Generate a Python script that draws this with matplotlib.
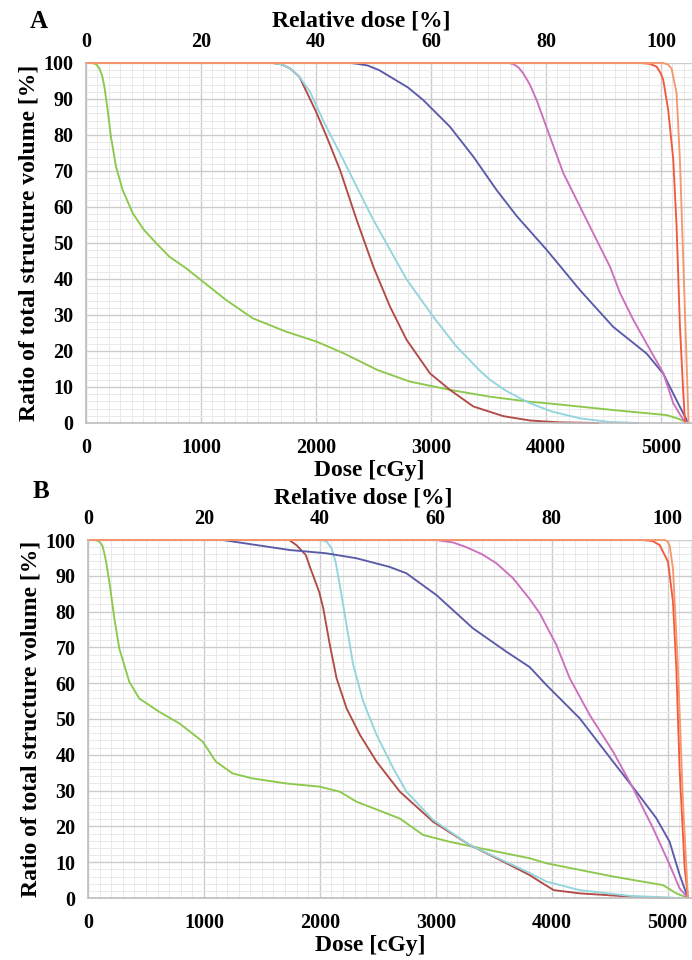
#!/usr/bin/env python3
import matplotlib
matplotlib.use("Agg")
import matplotlib.pyplot as plt
from matplotlib.ticker import MultipleLocator

plt.rcParams["font.family"] = ["Liberation Serif", "DejaVu Serif"]
plt.rcParams["font.weight"] = "bold"

# colours of the structures
GREEN = "#8cc84b"
BROWN = "#b24a46"
CYAN = "#92d5dd"
BLUE = "#5a5aaa"
PINK = "#cc6fbe"
RED = "#f35a3c"
ORANGE = "#f6986f"

# ---- panel A (dose in cGy, volume in %) ----
a_green_x = [0, 58, 90, 116, 140, 160, 188, 217, 261, 319, 406, 500, 609, 725, 870, 1000, 1217,
             1449, 1739, 2006, 2238, 2536, 2817, 3165, 3513, 3861, 4006, 4585, 5049, 5150, 5237]
a_green_y = [100, 100, 99.6, 98.5, 96.5, 93.4, 87, 79.5, 71.2, 64.7, 58.3, 53.8, 50, 46.2, 43.0,
             39.7, 34.2, 29.1, 25.4, 22.6, 19.4, 14.7, 11.5, 9.2, 7.3, 5.9, 5.5, 3.6, 2.2, 1.2, 0]

a_brown_x = [0, 1623, 1700, 1774, 1855, 1948, 2000, 2087, 2209, 2354, 2499, 2644, 2788, 2991,
             3165, 3368, 3629, 3861, 4100, 4455]
a_brown_y = [100, 100, 99.6, 98.5, 96.2, 90, 86.5, 80, 70.3, 56.4, 43.4, 32.3, 23.1, 13.8,
             9.2, 4.6, 1.9, 0.7, 0.2, 0]

a_cyan_x = [0, 1623, 1700, 1774, 1855, 1948, 2070, 2209, 2499, 2788, 3020, 3223, 3426, 3513,
            3650, 3803, 3861, 4050, 4296, 4550, 4800]
a_cyan_y = [100, 100, 99.6, 98.5, 96.2, 92.0, 83.5, 74.9, 56.4, 39.9, 29.5, 21.2, 14.5, 12.0,
            9.0, 6.4, 5.5, 3.2, 1.3, 0.3, 0]

a_blue_x = [0, 2300, 2354, 2450, 2550, 2644, 2800, 2933, 3165, 3368, 3571, 3745, 4006, 4296,
            4585, 4875, 5020, 5136, 5237]
a_blue_y = [100, 100, 99.8, 99.3, 98.0, 96.2, 93.2, 89.7, 82.3, 74, 64.7, 57.5, 48.1, 36.9,
            26.7, 19.3, 13.7, 6.3, 0]

a_pink_x = [0, 3680, 3716, 3760, 3803, 3860, 3919, 4035, 4151, 4296, 4441, 4557, 4644, 4759,
            4904, 5020, 5107, 5194, 5237]
a_pink_y = [100, 100, 99.7, 98.8, 97.1, 94.0, 89.7, 79.5, 69.4, 60.1, 50.8, 43.4, 36.1, 28.7,
            20.4, 13.9, 5.5, 0.9, 0]

a_red_x = [0, 4817, 4900, 4962, 5000, 5020, 5063, 5107, 5136, 5165, 5194, 5210]
a_red_y = [100, 100, 99.8, 99.0, 97.0, 95.3, 87, 73.2, 54.6, 26.9, 8.3, 0]

a_orange_x = [0, 5020, 5060, 5092, 5136, 5165, 5194, 5223, 5240]
a_orange_y = [100, 100, 99.6, 98.5, 91.6, 73, 45.2, 17, 0]

# ---- panel B ----
b_green_x = [0, 69, 100, 126, 150, 184, 227, 270, 356, 443, 615, 787, 989, 1103, 1247, 1420,
             1707, 2000, 2172, 2316, 2690, 2891, 3121, 3322, 3810, 3954, 4529, 4960, 5075, 5175]
b_green_y = [100, 100, 99.5, 98.3, 95.0, 88.4, 78.1, 69.7, 60.4, 55.7, 52.0, 48.8, 43.7, 38.1,
             34.8, 33.4, 32.0, 31.1, 29.7, 26.9, 22.2, 17.6, 15.7, 14.3, 11.1, 9.7, 6.0, 3.6,
             1.3, 0]

b_brown_x = [0, 1736, 1800, 1879, 1914, 1994, 2029, 2086, 2144, 2230, 2345, 2489, 2690, 2977,
             3293, 3580, 3810, 3897, 4017, 4241, 4672, 5017]
b_brown_y = [100, 100, 98.5, 95.8, 92.5, 85.5, 81, 70.7, 61.4, 53.0, 45.6, 38.1, 29.7, 21.3,
             14.8, 10.2, 6.4, 4.6, 2.2, 1.3, 0.4, 0]

b_cyan_x = [0, 2014, 2060, 2100, 2135, 2172, 2230, 2287, 2374, 2489, 2632, 2747, 2977, 3293,
            3810, 3954, 4241, 4672, 5103]
b_cyan_y = [100, 100, 99.5, 97.7, 94.0, 87.4, 76.3, 65.2, 54.9, 45.6, 36.3, 29.7, 21.8, 14.8,
            7.0, 4.6, 2.2, 0.6, 0]

b_blue_x = [0, 1161, 1741, 2052, 2316, 2600, 2747, 3006, 3322, 3609, 3810, 3954, 4241, 4529,
            4730, 4902, 5017, 5103, 5175]
b_blue_y = [100, 100, 97.2, 96.3, 94.9, 92.5, 90.7, 84.6, 75.3, 68.8, 64.5, 59.5, 50.2, 38.1,
            29.7, 22.3, 15.7, 6.5, 0]

b_pink_x = [0, 3006, 3150, 3264, 3400, 3523, 3667, 3810, 3897, 4040, 4155, 4328, 4529, 4701,
            4874, 5017, 5103, 5175]
b_pink_y = [100, 100, 99.3, 98.0, 96.0, 93.5, 89.3, 83.5, 79.5, 70.7, 61.4, 51.1, 40.9, 30.7,
            19.5, 9.3, 2.7, 0]

b_red_x = [0, 4787, 4870, 4931, 5003, 5046, 5075, 5103, 5147, 5175]
b_red_y = [100, 100, 99.7, 98.6, 93.9, 82.8, 64.1, 36.2, 8.3, 0]

b_orange_x = [0, 4974, 5000, 5017, 5046, 5089, 5132, 5175]
b_orange_y = [100, 100, 99.6, 98.5, 92, 64, 27, 0]

x_ticks = [0, 1000, 2000, 3000, 4000, 5000]
rel_ticks = [0, 20, 40, 60, 80, 100]
y_ticks = [0, 10, 20, 30, 40, 50, 60, 70, 80, 90, 100]
PRESCRIPTION = 5000.0  # 100 % relative dose


def draw_panel(ax, curves, xmax):
    ax.set_xlim(0, xmax)
    ax.set_ylim(0, 100)

    ax.xaxis.set_major_locator(MultipleLocator(1000))
    ax.xaxis.set_minor_locator(MultipleLocator(100))
    ax.yaxis.set_major_locator(MultipleLocator(10))
    ax.yaxis.set_minor_locator(MultipleLocator(2))
    ax.grid(True, which="major", color="#cccccc", linewidth=1.0)
    ax.grid(True, which="minor", color="#e9e9e9", linewidth=0.7)
    ax.set_axisbelow(True)

    for xs, ys, c in curves:
        ax.plot(xs, ys, color=c, linewidth=1.35, clip_on=False, solid_capstyle="round",
                solid_joinstyle="round")

    ax.set_xticks(x_ticks)
    ax.set_yticks(y_ticks)
    ax.tick_params(axis="x", which="both", length=0, labelsize=14.5, pad=11)
    ax.tick_params(axis="y", which="both", length=0, labelsize=14.5, pad=9)
    for lab in ax.get_xticklabels() + ax.get_yticklabels():
        lab.set_fontweight("bold")

    for side in ["top", "right"]:
        ax.spines[side].set_visible(False)
    for side in ["left", "bottom"]:
        ax.spines[side].set_color("#bdbdbd")
        ax.spines[side].set_linewidth(1.2)

    ax.set_xlabel("Dose [cGy]", fontsize=17, fontweight="bold", labelpad=1, x=0.468)
    ax.set_ylabel("Ratio of total structure volume [%]", fontsize=17, fontweight="bold",
                  labelpad=3)

    top = ax.secondary_xaxis("top", functions=(lambda d: d / PRESCRIPTION * 100,
                                               lambda r: r * PRESCRIPTION / 100))
    top.set_xticks(rel_ticks)
    top.tick_params(length=0, labelsize=14.5, pad=8)
    for lab in top.get_xticklabels():
        lab.set_fontweight("bold")
    top.spines["top"].set_visible(False)
    top.set_xlabel("Relative dose [%]", fontsize=17, fontweight="bold", labelpad=4, x=0.455)


def main():
    fig = plt.figure(figsize=(6.92, 9.6), dpi=100)

    ax_a = fig.add_axes([86 / 692, 1 - 423 / 960, (692 - 86) / 692, 360 / 960])
    ax_b = fig.add_axes([88 / 692, 1 - 898 / 960, (692 - 88) / 692, 358 / 960])

    curves_a = [
        (a_green_x, a_green_y, GREEN),
        (a_brown_x, a_brown_y, BROWN),
        (a_cyan_x, a_cyan_y, CYAN),
        (a_blue_x, a_blue_y, BLUE),
        (a_pink_x, a_pink_y, PINK),
        (a_red_x, a_red_y, RED),
        (a_orange_x, a_orange_y, ORANGE),
    ]
    curves_b = [
        (b_green_x, b_green_y, GREEN),
        (b_brown_x, b_brown_y, BROWN),
        (b_cyan_x, b_cyan_y, CYAN),
        (b_blue_x, b_blue_y, BLUE),
        (b_pink_x, b_pink_y, PINK),
        (b_red_x, b_red_y, RED),
        (b_orange_x, b_orange_y, ORANGE),
    ]

    draw_panel(ax_a, curves_a, 5270)
    draw_panel(ax_b, curves_b, 5210)

    fig.text(30 / 692, 1 - 22 / 960, "A", fontsize=18, fontweight="bold", va="center", ha="left")
    fig.text(33 / 692, 1 - 492 / 960, "B", fontsize=18, fontweight="bold", va="center", ha="left")

    fig.savefig("out.png", dpi=100)
    plt.close(fig)


if __name__ == "__main__":
    main()
